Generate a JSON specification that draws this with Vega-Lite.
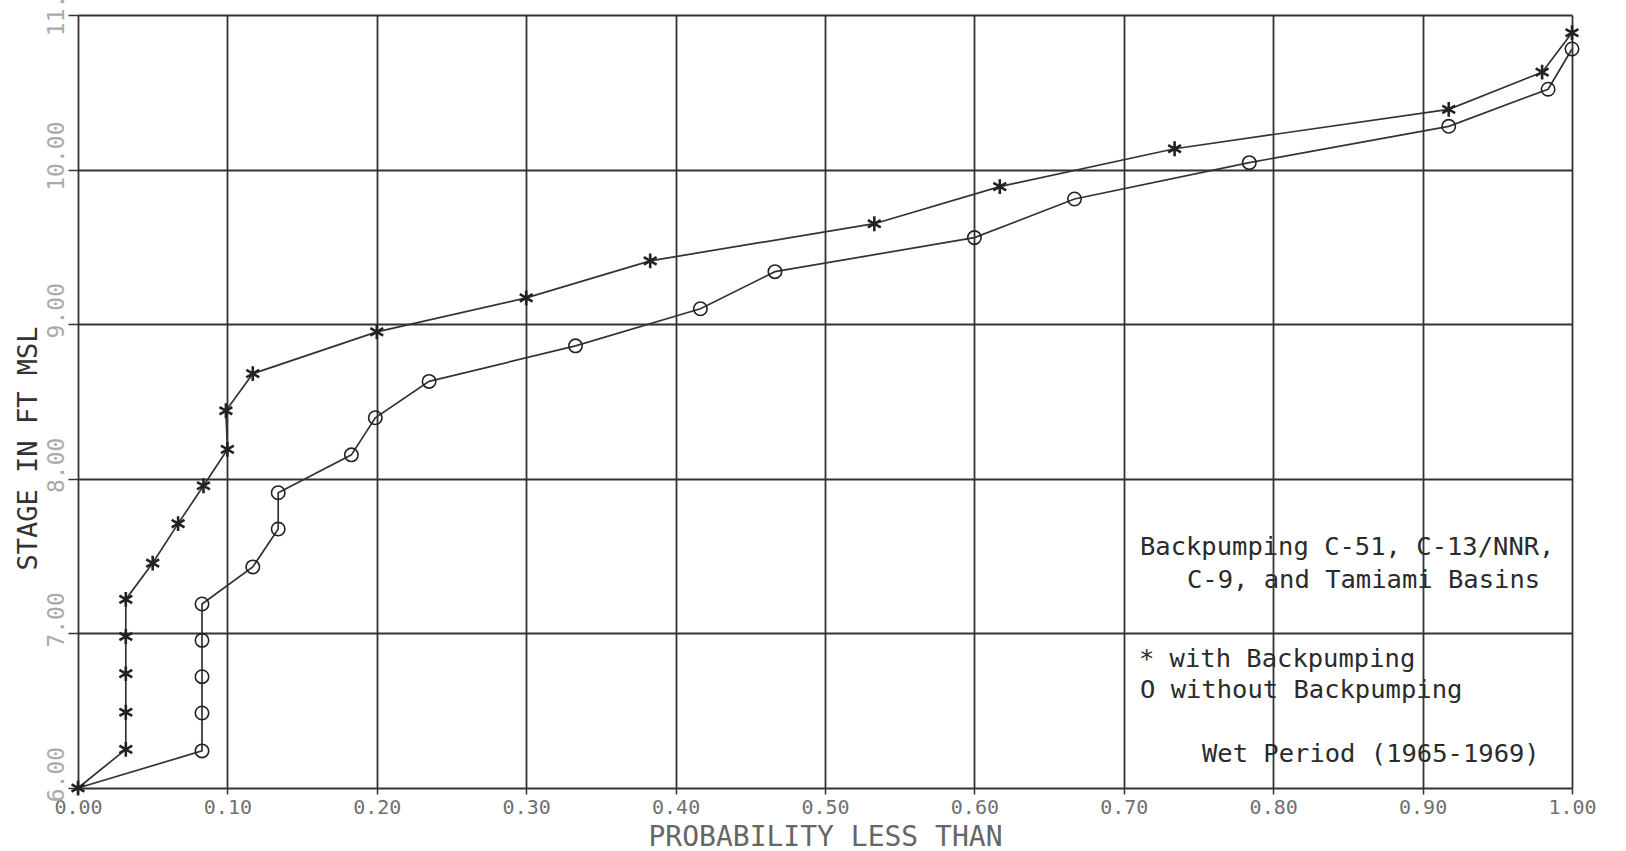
{
  "$schema": "https://vega.github.io/schema/vega-lite/v6.json",
  "width": 1494,
  "height": 773,
  "autosize": {"type": "none"},
  "padding": {"left": 78, "top": 15, "right": 54, "bottom": 63},
  "background": "white",
  "config": {"view": {"stroke": null}, "font": "DejaVu Sans Mono"},
  "datasets": {
    "stage": [
      {"series": "with", "i": 0, "p": 0.0, "stage": 6.0},
      {"series": "with", "i": 1, "p": 0.032, "stage": 6.25},
      {"series": "with", "i": 2, "p": 0.032, "stage": 6.49},
      {"series": "with", "i": 3, "p": 0.032, "stage": 6.74},
      {"series": "with", "i": 4, "p": 0.032, "stage": 6.98},
      {"series": "with", "i": 5, "p": 0.032, "stage": 7.22},
      {"series": "with", "i": 6, "p": 0.05, "stage": 7.455},
      {"series": "with", "i": 7, "p": 0.067, "stage": 7.71},
      {"series": "with", "i": 8, "p": 0.084, "stage": 7.955},
      {"series": "with", "i": 9, "p": 0.1, "stage": 8.19},
      {"series": "with", "i": 10, "p": 0.099, "stage": 8.44},
      {"series": "with", "i": 11, "p": 0.117, "stage": 8.68},
      {"series": "with", "i": 12, "p": 0.2, "stage": 8.95},
      {"series": "with", "i": 13, "p": 0.3, "stage": 9.17},
      {"series": "with", "i": 14, "p": 0.383, "stage": 9.41},
      {"series": "with", "i": 15, "p": 0.533, "stage": 9.65},
      {"series": "with", "i": 16, "p": 0.617, "stage": 9.89},
      {"series": "with", "i": 17, "p": 0.734, "stage": 10.135},
      {"series": "with", "i": 18, "p": 0.9175, "stage": 10.39},
      {"series": "with", "i": 19, "p": 0.98, "stage": 10.63},
      {"series": "with", "i": 20, "p": 1.0, "stage": 10.885},
      {"series": "without", "i": 0, "p": 0.0, "stage": 6.0},
      {"series": "without", "i": 1, "p": 0.083, "stage": 6.24},
      {"series": "without", "i": 2, "p": 0.083, "stage": 6.485},
      {"series": "without", "i": 3, "p": 0.083, "stage": 6.72},
      {"series": "without", "i": 4, "p": 0.083, "stage": 6.955},
      {"series": "without", "i": 5, "p": 0.083, "stage": 7.19},
      {"series": "without", "i": 6, "p": 0.117, "stage": 7.43},
      {"series": "without", "i": 7, "p": 0.134, "stage": 7.675},
      {"series": "without", "i": 8, "p": 0.134, "stage": 7.91},
      {"series": "without", "i": 9, "p": 0.183, "stage": 8.155},
      {"series": "without", "i": 10, "p": 0.199, "stage": 8.395},
      {"series": "without", "i": 11, "p": 0.235, "stage": 8.63},
      {"series": "without", "i": 12, "p": 0.333, "stage": 8.86},
      {"series": "without", "i": 13, "p": 0.4166, "stage": 9.1},
      {"series": "without", "i": 14, "p": 0.4665, "stage": 9.34},
      {"series": "without", "i": 15, "p": 0.6, "stage": 9.56},
      {"series": "without", "i": 16, "p": 0.667, "stage": 9.81},
      {"series": "without", "i": 17, "p": 0.784, "stage": 10.045},
      {"series": "without", "i": 18, "p": 0.9175, "stage": 10.28},
      {"series": "without", "i": 19, "p": 0.984, "stage": 10.52},
      {"series": "without", "i": 20, "p": 1.0, "stage": 10.78}
    ],
    "notes": [
      {"label": "Backpumping C-51, C-13/NNR,", "p": 0.7108, "stage": 7.507},
      {"label": "C-9, and Tamiami Basins", "p": 0.7423, "stage": 7.294},
      {"label": "* with Backpumping", "p": 0.7101, "stage": 6.783},
      {"label": "O without Backpumping", "p": 0.7108, "stage": 6.582},
      {"label": "Wet Period (1965-1969)", "p": 0.7523, "stage": 6.168}
    ]
  },
  "layer": [
    {
      "data": {"name": "stage"},
      "mark": {"type": "line", "color": "#333333", "strokeWidth": 1.7},
      "encoding": {
        "x": {
          "field": "p",
          "type": "quantitative",
          "scale": {"domain": [0, 1], "nice": false, "zero": false},
          "axis": {
            "title": "PROBABILITY LESS THAN",
            "values": [0, 0.1, 0.2, 0.3, 0.4, 0.5, 0.6, 0.7, 0.8, 0.9, 1.0],
            "format": ".2f",
            "grid": true,
            "gridColor": "#333333",
            "gridWidth": 1.8,
            "gridOpacity": 1,
            "domain": false,
            "ticks": true,
            "tickSize": 6,
            "tickColor": "#333333",
            "tickWidth": 1.5,
            "labelFont": "DejaVu Sans Mono",
            "labelFontSize": 20,
            "labelColor": "#707070",
            "labelPadding": 3,
            "labelBaseline": "top",
            "labelFlush": false,
            "labelOverlap": false,
            "titleFont": "DejaVu Sans Mono",
            "titleFontSize": 28,
            "titleFontWeight": "normal",
            "titleColor": "#666666",
            "titleY": 57,
            "titleBaseline": "alphabetic"
          }
        },
        "y": {
          "field": "stage",
          "type": "quantitative",
          "scale": {"domain": [6, 11], "nice": false, "zero": false},
          "axis": {
            "title": "STAGE IN FT MSL",
            "values": [6, 7, 8, 9, 10, 11],
            "format": ".2f",
            "grid": true,
            "gridColor": "#333333",
            "gridWidth": 1.8,
            "gridOpacity": 1,
            "domain": false,
            "ticks": true,
            "tickSize": 10,
            "tickColor": "#333333",
            "tickWidth": 1.5,
            "labelFont": "DejaVu Sans Mono",
            "labelFontSize": 23,
            "labelColor": "#aaaaaa",
            "labelAngle": 270,
            "labelAlign": "center",
            "labelBaseline": "alphabetic",
            "labelPadding": 5,
            "labelOffset": -14,
            "labelFlush": false,
            "labelOverlap": false,
            "titleFont": "DejaVu Sans Mono",
            "titleFontSize": 27,
            "titleFontWeight": "normal",
            "titleColor": "#333333",
            "titleAngle": 270,
            "titleAlign": "center",
            "titleBaseline": "alphabetic",
            "titleX": -42,
            "titleY": 433
          }
        },
        "detail": {"field": "series"},
        "order": {"field": "i", "type": "quantitative"}
      }
    },
    {
      "data": {"name": "stage"},
      "transform": [{"filter": "!(datum.series === 'without' && datum.i === 0)"}],
      "mark": {"type": "point", "filled": false, "color": "#222222", "strokeWidth": 2.4, "opacity": 1},
      "encoding": {
        "x": {"field": "p", "type": "quantitative"},
        "y": {"field": "stage", "type": "quantitative"},
        "shape": {
          "field": "series",
          "type": "nominal",
          "scale": {
            "domain": ["with", "without"],
            "range": ["M0,-1L0,1M-0.866,-0.5L0.866,0.5M-0.866,0.5L0.866,-0.5", "circle"]
          },
          "legend": null
        },
        "size": {
          "field": "series",
          "type": "nominal",
          "scale": {"domain": ["with", "without"], "range": [220, 180]},
          "legend": null
        },
        "strokeWidth": {
          "field": "series",
          "type": "nominal",
          "scale": {"domain": ["with", "without"], "range": [2.6, 1.6]},
          "legend": null
        }
      }
    },
    {
      "data": {"name": "notes"},
      "mark": {
        "type": "text",
        "align": "left",
        "baseline": "alphabetic",
        "font": "DejaVu Sans Mono",
        "fontSize": 25.5,
        "color": "#2b2b2b"
      },
      "encoding": {
        "x": {"field": "p", "type": "quantitative"},
        "y": {"field": "stage", "type": "quantitative"},
        "text": {"field": "label"}
      }
    }
  ]
}
